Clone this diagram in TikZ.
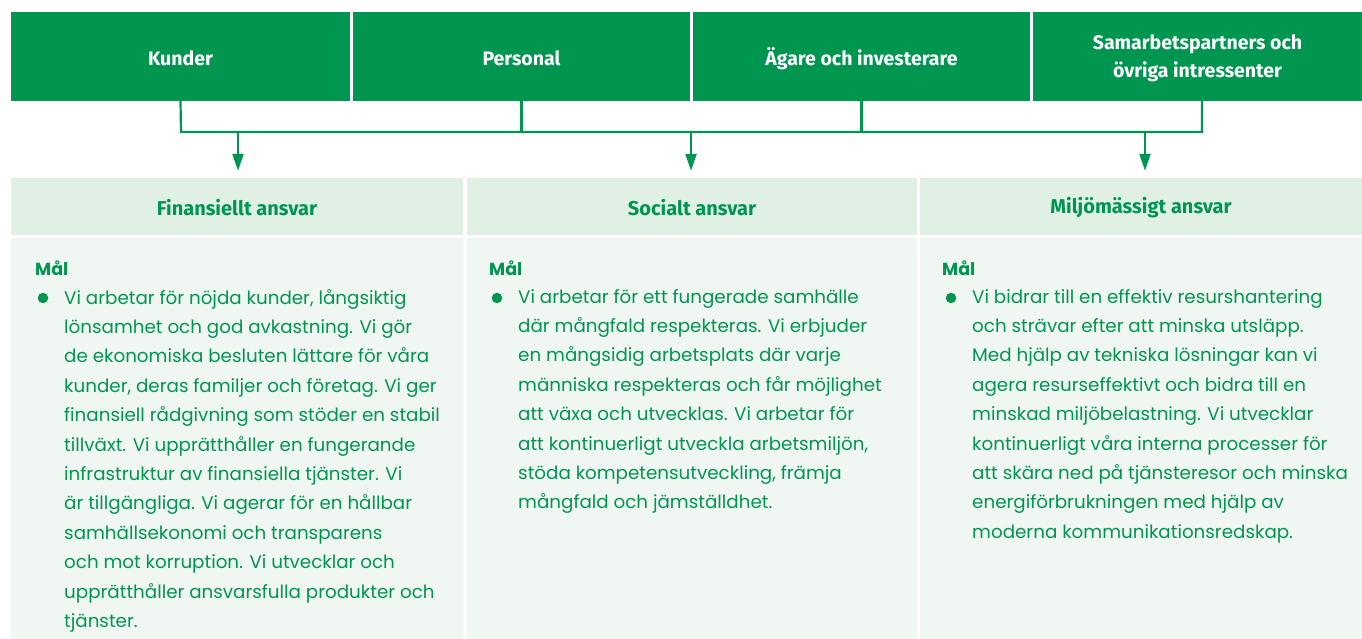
\documentclass[tikz,border=0pt]{standalone}
\usepackage{fontspec}
\setmainfont{Poppins}
\newfontfamily\headfont{Fira Sans}
\usetikzlibrary{arrows.meta}
\definecolor{sgreen}{RGB}{0,150,80}
\definecolor{hdrbg}{RGB}{224,240,228}
\definecolor{bodybg}{RGB}{240,247,242}
\tikzset{
  topbox/.style={fill=sgreen, draw=none, minimum height=89pt, inner sep=0pt},
  toplabel/.style={text=white, align=center, inner sep=0pt, yshift=-2pt,
    font=\headfont\bfseries\fontsize{19.5}{28}\selectfont},
  hdrbox/.style={fill=hdrbg, draw=none, minimum height=57pt, inner sep=0pt},
  hdrlabel/.style={text=sgreen, inner sep=0pt, yshift=-1pt,
    font=\headfont\bfseries\fontsize{20}{22}\selectfont},
  bodybox/.style={fill=bodybg, draw=none, minimum height=401pt, inner sep=0pt},
  conn/.style={draw=sgreen, line width=2.2pt},
  arr/.style={conn, -{Triangle[width=11pt,length=17pt]}, shorten >=7pt},
  maltitle/.style={anchor=west, inner sep=0pt, text=sgreen, font=\bfseries\fontsize{17.5}{20}\selectfont},
  bodytext/.style={anchor=north west, inner sep=0pt, align=left, text=sgreen, font=\fontsize{18.3}{29.4}\selectfont},
  dot/.style={circle, fill=sgreen, minimum size=10.5pt, inner sep=0pt}
}
\begin{document}
\begin{tikzpicture}[x=1pt,y=-1pt]
\useasboundingbox (0,0) rectangle (1362,639);
% top boxes
\node[topbox, minimum width=339pt, label={[toplabel]center:Kunder}] (k) at (180.5,56.5) {};
\node[topbox, minimum width=337pt, label={[toplabel]center:Personal}] (p) at (521.5,56.5) {};
\node[topbox, minimum width=337pt, label={[toplabel]center:Ägare och investerare}] (a) at (861.5,56.5) {};
\node[topbox, minimum width=329pt, label={[toplabel]center:{Samarbetspartners och\\övriga intressenter}}] (s) at (1197.5,56.5) {};
% header boxes
\node[hdrbox, minimum width=452pt, label={[hdrlabel]center:Finansiellt ansvar}] (h1) at (237,206.5) {};
\node[hdrbox, minimum width=450pt, label={[hdrlabel]center:Socialt ansvar}] (h2) at (692,206.5) {};
\node[hdrbox, minimum width=442pt, label={[hdrlabel]center:Miljömässigt ansvar}] (h3) at (1141,206.5) {};
% body boxes
\node[bodybox, minimum width=452pt] (b1) at (237,438.5) {};
\node[bodybox, minimum width=450pt] (b2) at (692,438.5) {};
\node[bodybox, minimum width=442pt] (b3) at (1141,438.5) {};
% connectors
\coordinate (sstem) at (1202,101);
\coordinate (barL) at (181,132);
\coordinate (barR) at (1202,132);
\draw[conn] (k.south) -- (barL) -- (barR) -- (sstem);
\draw[conn] (p.south) -- (p.south |- barL);
\draw[conn] (a.south) -- (a.south |- barL);
\coordinate (t1) at (238,132);
\coordinate (t2) at (691,132);
\coordinate (t3) at (1145,132);
\draw[arr] (t1) -- (t1 |- h1.north);
\draw[arr] (t2) -- (t2 |- h2.north);
\draw[arr] (t3) -- (t3 |- h3.north);
% column 1
\node[maltitle] (m1) at (35,268) {Mål};
\node[dot] (d1) at (43,298) {};
\node[bodytext] (tx1) at (64,289) {Vi arbetar för nöjda kunder, långsiktig\\
lönsamhet och god avkastning. Vi gör\\
de ekonomiska besluten lättare för våra\\
kunder, deras familjer och företag. Vi ger\\
finansiell rådgivning som stöder en stabil\\
tillväxt. Vi upprätthåller en fungerande\\
infrastruktur av finansiella tjänster. Vi\\
är tillgängliga. Vi agerar för en hållbar\\
samhällsekonomi och transparens\\
och mot korruption. Vi utvecklar och\\
upprätthåller ansvarsfulla produkter och\\
tjänster.};
% column 2
\node[maltitle] (m2) at (489,268) {Mål};
\node[dot] (d2) at (497,298) {};
\node[bodytext] (tx2) at (518,289) {Vi arbetar för ett fungerade samhälle\\
där mångfald respekteras. Vi erbjuder\\
en mångsidig arbetsplats där varje\\
människa respekteras och får möjlighet\\
att växa och utvecklas. Vi arbetar för\\
att kontinuerligt utveckla arbetsmiljön,\\
stöda kompetensutveckling, främja\\
mångfald och jämställdhet.};
% column 3
\node[maltitle] (m3) at (942,268) {Mål};
\node[dot] (d3) at (951,298) {};
\node[bodytext] (tx3) at (972,289) {Vi bidrar till en effektiv resurshantering\\
och strävar efter att minska utsläpp.\\
Med hjälp av tekniska lösningar kan vi\\
agera resurseffektivt och bidra till en\\
minskad miljöbelastning. Vi utvecklar\\
kontinuerligt våra interna processer för\\
att skära ned på tjänsteresor och minska\\
energiförbrukningen med hjälp av\\
moderna kommunikationsredskap.};
\end{tikzpicture}
\end{document}
